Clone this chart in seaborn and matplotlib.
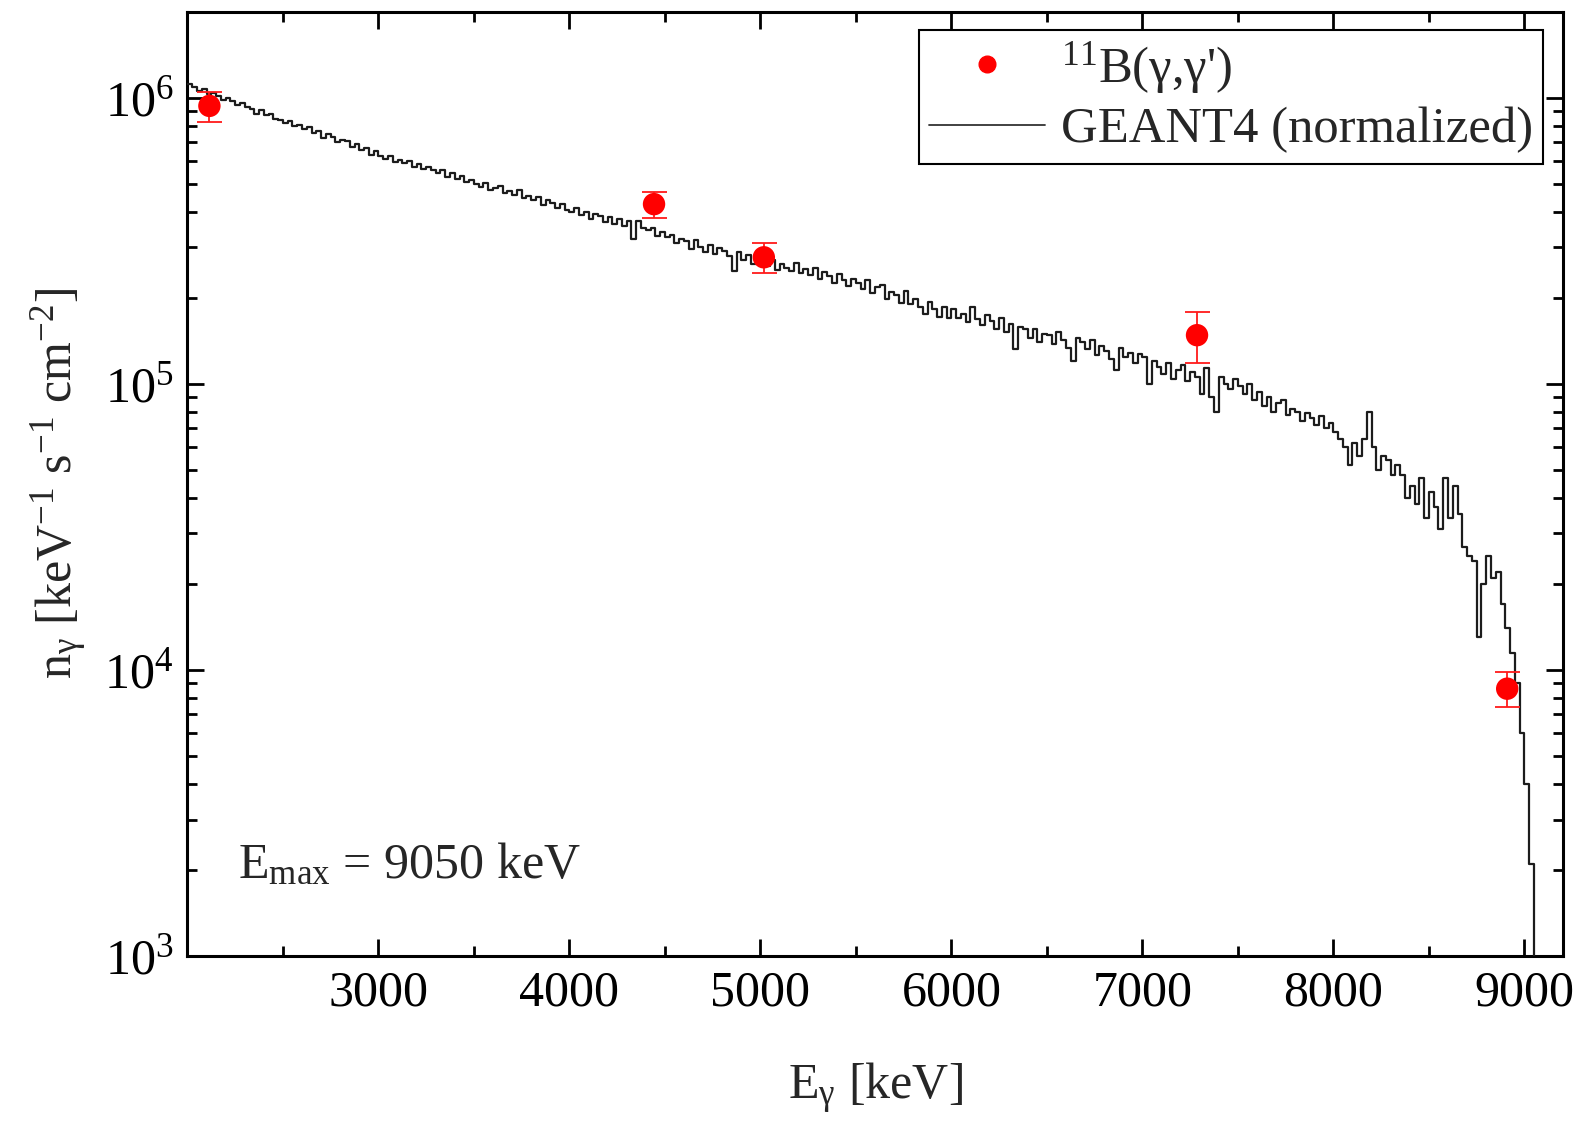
import numpy as np
import matplotlib
matplotlib.use("Agg")
import matplotlib.pyplot as plt
from matplotlib.lines import Line2D
import matplotlib.ticker as mticker
import seaborn as sns

# ---------------- data ----------------
# 11B(gamma,gamma') measured photon flux
meas_energy = [2115, 4443, 5018, 7286, 8910]          # keV
meas_flux = [9.37e5, 4.25e5, 2.77e5, 1.48e5, 8.6e3]    # keV^-1 s^-1 cm^-2
meas_err = [1.15e5, 4.5e4, 3.3e4, 3.0e4, 1.2e3]

# GEANT4 simulated spectrum (normalized), 25 keV bins starting at 2000 keV,
# values in units of 1e3 keV^-1 s^-1 cm^-2
geant_bin_start = 2000
geant_bin_width = 25
geant_flux_k = [
    # 2000-2500
    1115, 1090, 1060, 1075, 1030, 1040, 1018, 985, 1000, 975,
    945, 958, 930, 915, 880, 905, 868, 875, 842, 838,
    # 2500-3000
    815, 830, 798, 805, 775, 790, 752, 768, 722, 745,
    730, 698, 712, 705, 672, 688, 655, 670, 632, 650,
    # 3000-3500
    628, 612, 625, 598, 605, 590, 600, 572, 588, 565,
    575, 560, 548, 558, 528, 545, 522, 535, 508, 518,
    # 3500-4000
    500, 488, 505, 478, 482, 492, 465, 472, 458, 475,
    448, 455, 438, 450, 422, 440, 430, 412, 425, 404,
    # 4000-4500
    398, 412, 388, 400, 378, 392, 386, 368, 382, 362,
    378, 355, 370, 320, 372, 352, 345, 350, 328, 340,
    # 4500-5000
    325, 332, 310, 322, 315, 296, 318, 302, 290, 306,
    285, 298, 292, 280, 248, 288, 272, 282, 262, 275,
    # 5000-5500
    265, 258, 272, 250, 262, 255, 248, 265, 245, 252,
    240, 255, 232, 246, 238, 225, 242, 230, 220, 232,
    # 5500-6000
    225, 215, 230, 208, 218, 222, 198, 210, 204, 192,
    212, 190, 198, 185, 176, 194, 182, 172, 186, 170,
    # 6000-6500
    182, 170, 176, 165, 185, 168, 160, 174, 166, 156,
    170, 152, 162, 132, 158, 155, 145, 156, 140, 150,
    # 6500-7000
    148, 138, 152, 142, 134, 120, 145, 140, 132, 142,
    126, 136, 130, 122, 112, 134, 124, 128, 118, 127,
    # 7000-7500
    124, 100, 120, 115, 108, 118, 104, 112, 116, 102,
    110, 106, 92, 114, 90, 80, 106, 100, 96, 104,
    # 7500-8000
    98, 92, 100, 88, 94, 84, 90, 80, 86, 88,
    78, 82, 80, 74, 79, 76, 72, 77, 70, 73,
    # 8000-8500
    68, 64, 60, 52, 62, 56, 64, 80, 60, 50,
    56, 54, 48, 52, 48, 40, 44, 38, 47, 34,
    # 8500-9000
    42, 37, 31, 47, 34, 44, 35, 27, 25, 24,
    13, 20, 25, 21, 22, 17, 14, 11.5, 9, 6,
    # 9000-9050
    4.0, 2.1,
]
geant_flux_after_end = 0.0   # empty bins beyond E_max

xtick_values = [3000, 4000, 5000, 6000, 7000, 8000, 9000]

label_meas = r"$^\mathregular{11}$B(γ,γ')"
label_geant = "GEANT4 (normalized)"
annotation = r"E$_\mathregular{max}$ = 9050 keV"
xlabel = r"E$_\mathregular{γ}$ [keV]"
ylabel = r"n$_\mathregular{γ}$ [keV$^\mathregular{-1}$ s$^\mathregular{-1}$ cm$^\mathregular{-2}$]"

# ---------------- style ----------------
sns.set_theme(style="ticks")
plt.rcParams["font.family"] = ["Liberation Serif", "DejaVu Serif"]
plt.rcParams["mathtext.fontset"] = "custom"
plt.rcParams["mathtext.rm"] = "Liberation Serif"
plt.rcParams["mathtext.it"] = "Liberation Serif:italic"
plt.rcParams["mathtext.bf"] = "Liberation Serif:bold"
plt.rcParams["axes.unicode_minus"] = False

FS = 36

fig = plt.figure(figsize=(15.83, 11.25), dpi=100)
ax = fig.add_axes([0.1184, 0.1502, 0.8687, 0.8394])

edges = geant_bin_start + geant_bin_width * np.arange(len(geant_flux_k) + 1)
values = np.append(np.array(geant_flux_k, dtype=float) * 1e3, geant_flux_after_end)

sns.lineplot(x=edges, y=values, drawstyle="steps-post", color="#1c1c1c",
             lw=1.6, estimator=None, sort=False, ax=ax, legend=False, zorder=3)
ax.set_yscale("log")

ax.errorbar(meas_energy, meas_flux, yerr=meas_err, fmt="none", ecolor="#ff1a1a",
            elinewidth=1.3, capsize=9, capthick=1.3, zorder=4)
sns.scatterplot(x=meas_energy, y=meas_flux, color="#ff0000", s=260,
                edgecolor="none", zorder=5, ax=ax, legend=False)

ax.set_xlim(2000, 9200)
ax.set_ylim(1e3, 2e6)

ax.set_xticks(xtick_values)
ax.set_xticklabels([str(v) for v in xtick_values])
ax.xaxis.set_minor_locator(mticker.MultipleLocator(500))
ax.yaxis.set_major_locator(mticker.LogLocator(base=10))
ax.yaxis.set_minor_locator(mticker.LogLocator(base=10, subs=np.arange(2, 10)))
ax.yaxis.set_minor_formatter(mticker.NullFormatter())

ax.tick_params(which="both", direction="in", top=True, right=True,
               width=2, colors="black", labelsize=FS, pad=10)
ax.tick_params(which="major", length=12)
ax.tick_params(which="minor", length=7)
for sp in ax.spines.values():
    sp.set_linewidth(2.2)
    sp.set_color("black")

ax.set_xlabel(xlabel, fontsize=FS, labelpad=32)
ax.set_ylabel(ylabel, fontsize=FS, labelpad=10)

ax.text(0.037, 0.096, annotation, transform=ax.transAxes, fontsize=FS,
        va="center", ha="left")

handles = [
    Line2D([], [], ls="none", marker="o", color="#ff0000", markersize=12),
    Line2D([], [], color="#333333", lw=1.3),
]
leg = ax.legend(handles, [label_meas, label_geant], loc="upper right",
                bbox_to_anchor=(0.9856, 0.981), fontsize=36.5, frameon=True,
                fancybox=False, edgecolor="black", framealpha=1,
                handlelength=2.3, handletextpad=0.3, borderpad=0.2,
                labelspacing=0.22, borderaxespad=0)
leg.get_frame().set_linewidth(1.5)

fig.savefig("out.png", dpi=100)
